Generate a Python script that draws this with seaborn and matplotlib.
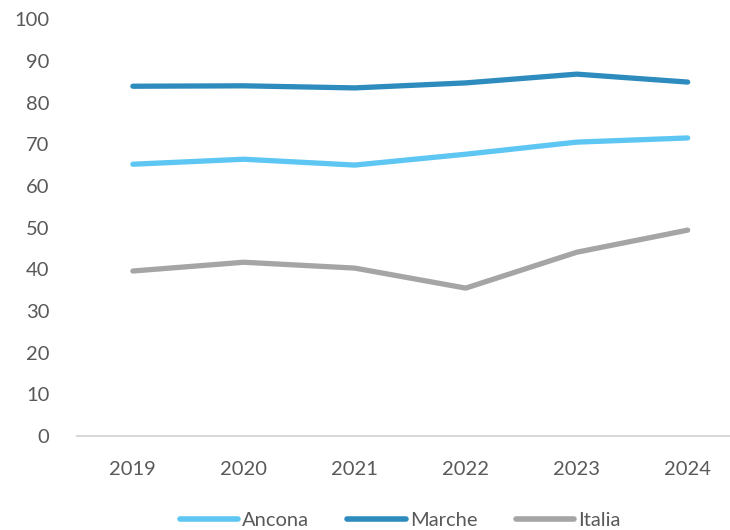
import pandas as pd
import matplotlib.pyplot as plt
import seaborn as sns

years = ["2019", "2020", "2021", "2022", "2023", "2024"]
ancona = [65.2, 66.4, 65.0, 67.6, 70.5, 71.5]
marche = [83.9, 84.0, 83.5, 84.7, 86.8, 84.9]
italia = [39.6, 41.7, 40.3, 35.5, 44.1, 49.4]

series = ["Ancona", "Marche", "Italia"]
colors = ["#5EC6F2", "#2E8BBD", "#A5A5A5"]

df = pd.DataFrame({
    "anno": years * 3,
    "valore": ancona + marche + italia,
    "serie": [s for s in series for _ in years],
})

sns.set_style("white")
plt.rcParams["font.family"] = ["Lato", "DejaVu Sans"]

fig = plt.figure(figsize=(7.3, 5.3), dpi=100)
ax = fig.add_axes([0.106, 0.177, 0.912, 0.787])

sns.lineplot(data=df, x="anno", y="valore", hue="serie", palette=colors,
             linewidth=3.8, ax=ax, sort=False, legend=False,
             solid_capstyle="round")

ax.set_xlim(-0.5, 5.5)
ax.set_ylim(0, 100)
ax.set_yticks(range(0, 101, 10))
ax.set_xlabel("")
ax.set_ylabel("")
for s in ["top", "right", "left"]:
    ax.spines[s].set_visible(False)
ax.spines["bottom"].set_color("#D9D9D9")
ax.spines["bottom"].set_linewidth(1.5)
ax.tick_params(axis="both", length=0, labelsize=14.5, colors="#595959")
ax.tick_params(axis="x", pad=18)
ax.tick_params(axis="y", pad=20)

handles = [plt.Line2D([], [], color=c, lw=4, solid_capstyle="round") for c in colors]
fig.legend(handles, series, loc="center", bbox_to_anchor=(0.548, 0.018),
           ncol=3, frameon=False, fontsize=14.5, handlelength=2.9,
           handletextpad=0.2, columnspacing=1.9, labelcolor="#595959")

fig.savefig("out.png", dpi=100)
